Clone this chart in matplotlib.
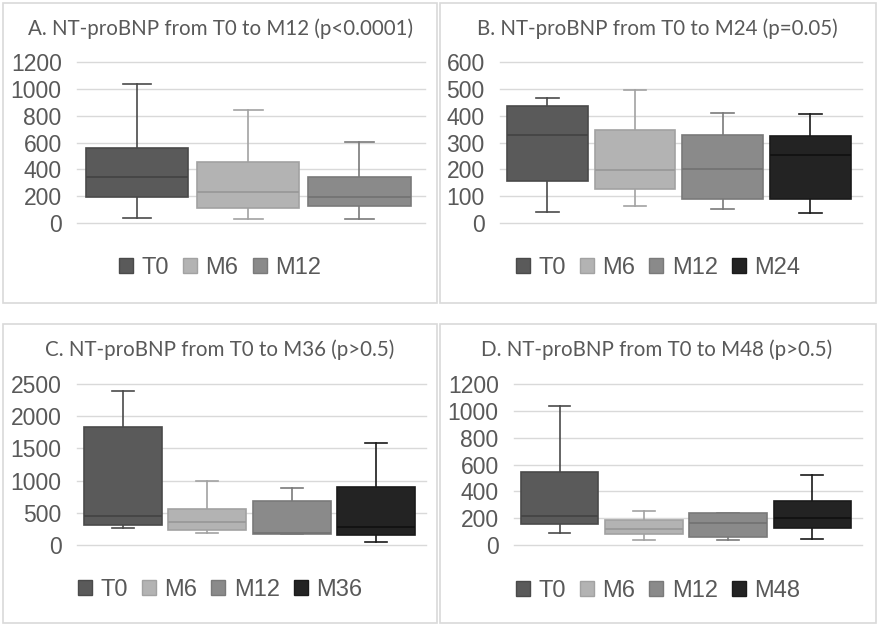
import matplotlib
matplotlib.use("Agg")
import matplotlib.pyplot as plt
from matplotlib.patches import Patch, Rectangle

# ---------------- data ----------------
A_title = "A. NT-proBNP from T0 to M12 (p<0.0001)"
A_labels = ["T0", "M6", "M12"]
A_whislo = [40, 30, 30]
A_q1 = [191, 114, 124]
A_med = [343, 229, 194]
A_q3 = [556, 455, 343]
A_whishi = [1038, 845, 606]
A_yticks = [0, 200, 400, 600, 800, 1000, 1200]

B_title = "B. NT-proBNP from T0 to M24 (p=0.05)"
B_labels = ["T0", "M6", "M12", "M24"]
B_whislo = [42, 63, 53, 37]
B_q1 = [155, 125, 91, 91]
B_med = [328, 198, 201, 253]
B_q3 = [435, 345, 329, 325]
B_whishi = [467, 494, 409, 405]
B_yticks = [0, 100, 200, 300, 400, 500, 600]

C_title = "C. NT-proBNP from T0 to M36 (p>0.5)"
C_labels = ["T0", "M6", "M12", "M36"]
C_whislo = [264, 192, 165, 52]
C_q1 = [316, 228, 171, 150]
C_med = [455, 357, 180, 285]
C_q3 = [1832, 564, 688, 895]
C_whishi = [2396, 999, 890, 1584]
C_yticks = [0, 500, 1000, 1500, 2000, 2500]

D_title = "D. NT-proBNP from T0 to M48 (p>0.5)"
D_labels = ["T0", "M6", "M12", "M48"]
D_whislo = [92, 35, 35, 45]
D_q1 = [159, 82, 57, 124]
D_med = [218, 119, 161, 204]
D_q3 = [542, 189, 238, 328]
D_whishi = [1038, 253, 241, 522]
D_yticks = [0, 200, 400, 600, 800, 1000, 1200]

# ---------------- style ----------------
FACE = ["#5a5a5a", "#b3b3b3", "#8a8a8a", "#232323"]
EDGE = ["#4a4a4a", "#a2a2a2", "#7a7a7a", "#1a1a1a"]
MED = ["#444444", "#999999", "#737373", "#121212"]
TXT = "#595959"
GRID = "#d9d9d9"

W, H = 878, 629
fig = plt.figure(figsize=(W / 100, H / 100), dpi=100)
fig.patch.set_facecolor("white")

def px_axes(x0, y0, x1, y1):
    return fig.add_axes([x0 / W, 1 - y1 / H, (x1 - x0) / W, (y1 - y0) / H])

def border(x0, y0, x1, y1):
    fig.patches.append(Rectangle((x0 / W, 1 - y1 / H), (x1 - x0) / W, (y1 - y0) / H,
                                 transform=fig.transFigure, fill=False,
                                 edgecolor=GRID, lw=1.2))

panels = [
    (A_title, A_labels, A_whislo, A_q1, A_med, A_q3, A_whishi, A_yticks,
     (3, 3, 437, 303), (77, 62, 425, 223), 220, 29, 268),
    (B_title, B_labels, B_whislo, B_q1, B_med, B_q3, B_whishi, B_yticks,
     (440, 3, 876, 303), (500, 62, 862, 223), 657, 29, 268),
    (C_title, C_labels, C_whislo, C_q1, C_med, C_q3, C_whishi, C_yticks,
     (3, 324, 437, 623), (77, 384, 426, 545), 220, 350, 590),
    (D_title, D_labels, D_whislo, D_q1, D_med, D_q3, D_whishi, D_yticks,
     (440, 324, 876, 623), (514, 384, 862, 545), 657, 350, 591),
]

for (title, labels, lo, q1, med, q3, hi, yt, bd, axr, tx, ty, ly) in panels:
    border(*bd)
    ax = px_axes(*axr)
    n = len(labels)
    stats = [dict(whislo=lo[i], q1=q1[i], med=med[i], q3=q3[i], whishi=hi[i],
                  label=labels[i], fliers=[]) for i in range(n)]
    bp = ax.bxp(stats, positions=list(range(n)), widths=0.92, patch_artist=True,
                showfliers=False, capwidths=0.26)
    for i in range(n):
        bp["boxes"][i].set_facecolor(FACE[i])
        bp["boxes"][i].set_edgecolor(EDGE[i])
        bp["boxes"][i].set_linewidth(1.2)
        bp["boxes"][i].set_zorder(3)
        bp["medians"][i].set_color(MED[i])
        bp["medians"][i].set_linewidth(1.3)
        bp["medians"][i].set_zorder(4)
        for w in bp["whiskers"][2 * i:2 * i + 2]:
            w.set_color(EDGE[i]); w.set_linewidth(1.2)
        for c in bp["caps"][2 * i:2 * i + 2]:
            c.set_color(EDGE[i]); c.set_linewidth(1.2)
    ax.set_xlim(-0.54, n - 1 + 0.59)
    ax.set_ylim(yt[0], yt[-1])
    ax.set_yticks(yt)
    ax.set_yticklabels([str(v) for v in yt], family="Liberation Sans",
                       fontsize=16.5, color=TXT)
    ax.set_xticks([])
    ax.tick_params(axis="y", length=0, pad=11)
    for s in ax.spines.values():
        s.set_visible(False)
    ax.yaxis.grid(True, color=GRID, lw=1.0)
    ax.set_axisbelow(True)
    for gl in ax.get_ygridlines():
        gl.set_clip_on(False)

    fig.text(tx / W, 1 - ty / H, title, ha="center", va="center",
             family="Lato", fontsize=14.8, color=TXT)

    handles = [Patch(facecolor=FACE[i], edgecolor=EDGE[i], label=labels[i]) for i in range(n)]
    cx = (bd[0] + bd[2]) / 2
    fig.legend(handles=handles, loc="center", bbox_to_anchor=(cx / W, 1 - ly / H),
               ncol=n, frameon=False, prop=dict(family="Liberation Sans", size=17),
               labelcolor=TXT, handlelength=0.6, handleheight=0.6,
               handletextpad=0.35, columnspacing=0.6, borderaxespad=0)

fig.savefig("out.png", dpi=100, facecolor="white")
